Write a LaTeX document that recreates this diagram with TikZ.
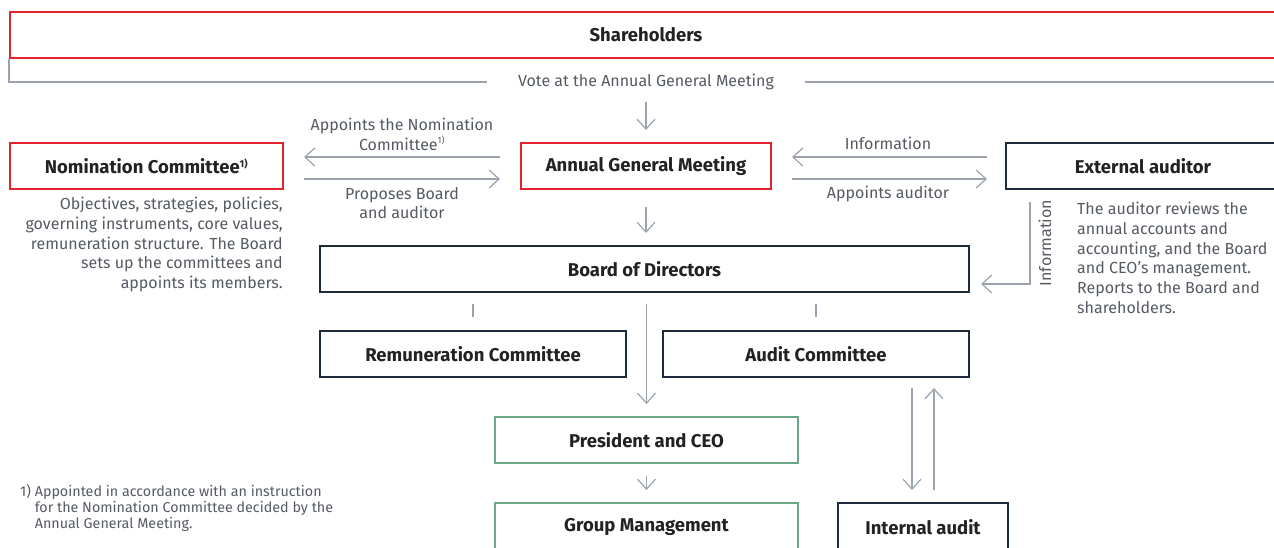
\documentclass[tikz,border=0pt]{standalone}
\usepackage{fontspec}
\setmainfont{Fira Sans}
\usetikzlibrary{arrows.meta,calc}
\definecolor{cred}{HTML}{E3232B}
\definecolor{cnavy}{HTML}{1D2B3A}
\definecolor{cgreen}{HTML}{6AA888}
\definecolor{cline}{HTML}{9CA3AF}
\definecolor{ctext}{HTML}{222222}
\definecolor{cgray}{HTML}{555A62}
\tikzset{
  box/.style={draw, line width=2pt, minimum height=46pt, inner sep=0pt, font=\fontsize{18.5}{20}\selectfont\bfseries, text=ctext},
  redbox/.style={box, draw=cred},
  navybox/.style={box, draw=cnavy},
  greenbox/.style={box, draw=cgreen},
  conn/.style={draw=cline, line width=1.2pt},
  arr/.style={conn, -{Straight Barb[length=10pt,width=18pt,line width=1.2pt]}},
  lbl/.style={font=\fontsize{16}{19.7}\selectfont, text=cgray, inner sep=0pt, align=center},
}
\begin{document}
\begin{tikzpicture}[x=1pt,y=-1pt]
\useasboundingbox (0,0) rectangle (1274,547);
\clip (0,0) rectangle (1274,547);
% boxes
\node[redbox, minimum width=1272pt] (sh) at (646,34.5) {Shareholders};
\node[redbox, minimum width=273pt] (nom) at (146.5,166) {Nomination Committee\textsuperscript{\fontsize{10}{10}\selectfont 1)}};
\node[redbox, minimum width=250pt] (agm) at (646,166) {Annual General Meeting};
\node[navybox, minimum width=274pt] (ext) at (1143,166) {External auditor};
\node[navybox, minimum width=649pt] (board) at (644.5,269) {Board of Directors};
\node[navybox, minimum width=306pt] (rem) at (473,354) {Remuneration Committee};
\node[navybox, minimum width=306pt] (aud) at (816,354) {Audit Committee};
\node[greenbox, minimum width=303pt] (ceo) at (646.5,440) {President and CEO};
\node[greenbox, minimum width=303pt, minimum height=48pt] (gm) at (646.5,527) {Group Management};
\node[navybox, minimum width=170pt, minimum height=48pt] (ia) at (923,527) {Internal audit};
% vote line
\node[lbl, minimum width=318pt] (vote) at (646,82) {Vote at the Annual General Meeting};
\coordinate (voteend) at (1274,82);
\draw[conn] (sh.south west) -- (sh.south west |- vote.west) -- (vote.west);
\draw[conn] (vote.east) -- (voteend);
\draw[arr, shorten <=12pt, shorten >=12pt] (vote.south -| agm.north) -- (agm.north);
% nomination arrows
\draw[arr, shorten <=20pt, shorten >=20pt] ([yshift=9pt]agm.west) -- ([yshift=9pt]nom.east);
\draw[arr, shorten <=20pt, shorten >=20pt] ([yshift=-13pt]nom.east) -- ([yshift=-13pt]agm.west);
\node[lbl] (l1) at (402,134) {Appoints the Nomination\\Committee\textsuperscript{\fontsize{9}{9}\selectfont 1)}};
\node[lbl] (l2) at (402,203) {Proposes Board\\and auditor};
% external auditor arrows
\draw[arr, shorten <=18pt, shorten >=20pt] ([yshift=9pt]ext.west) -- ([yshift=9pt]agm.east);
\draw[arr, shorten <=20pt, shorten >=18pt] ([yshift=-13pt]agm.east) -- ([yshift=-13pt]ext.west);
\node[lbl] (l3) at (888,143) {Information};
\node[lbl] (l4) at (888,194) {Appoints auditor};
% agm -> board
\draw[arr, shorten <=17pt, shorten >=12pt] (agm.south) -- (agm.south |- board.north);
% information from ext to board
\coordinate (ic) at (1030,284);
\draw[arr, shorten >=11pt] ($(ext.south west -| ic)+(0,12)$) -- (ic) -- (board.east |- ic);
\node[lbl, rotate=90] (l5) at (1045,243) {Information};
% descriptions
\node[lbl, align=right, anchor=north east] (ldesc) at (283,197) {Objectives, strategies, policies,\\governing instruments, core values,\\remuneration structure. The Board\\sets up the committees and\\appoints its members.};
\node[lbl, align=left, anchor=north west] (rdesc) at (1077,202) {The auditor reviews the\\annual accounts and\\accounting, and the Board\\and CEO’s management.\\Reports to the Board and\\shareholders.};
% ticks
\draw[conn, shorten <=11pt, shorten >=13pt] (board.south -| rem.north) -- (rem.north);
\draw[conn, shorten <=11pt, shorten >=13pt] (board.south -| aud.north) -- (aud.north);
% board -> ceo
\draw[arr, shorten <=11pt, shorten >=12pt] (ceo.north |- board.south) -- (ceo.north);
\draw[arr, shorten <=12pt, shorten >=12pt] (ceo.south) -- (gm.north);
% audit <-> internal audit
\draw[arr, shorten <=10pt, shorten >=12pt] ([xshift=-11pt]ia.north |- aud.south) -- ([xshift=-11pt]ia.north);
\draw[arr, shorten <=12pt, shorten >=10pt] ([xshift=11pt]ia.north) -- ([xshift=11pt]ia.north |- aud.south);
% footnote
\node[lbl, align=left, anchor=north west, font=\fontsize{14.3}{16}\selectfont] (fn) at (20,484) {1) Appointed in accordance with an instruction\\\hphantom{1) }for the Nomination Committee decided by the\\\hphantom{1) }Annual General Meeting.};
\end{tikzpicture}
\end{document}
